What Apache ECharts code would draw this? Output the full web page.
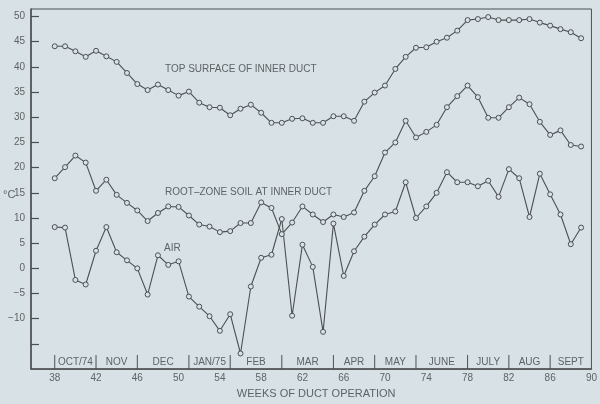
<!DOCTYPE html>
<html>
<head>
<meta charset="utf-8">
<script src="https://cdn.jsdelivr.net/npm/echarts@6/dist/echarts.min.js"></script>
<style>
html,body{margin:0;padding:0;background:#d7e1e6;}
#c{width:600px;height:404px;}
</style>
</head>
<body>
<div id="c"></div>
<script>
// Weeks of duct operation
const weeks = [38,39,40,41,42,43,44,45,46,47,48,49,50,51,52,53,54,55,56,57,58,59,60,61,62,63,
  64,65,66,67,68,69,70,71,72,73,74,75,76,77,78,79,80,81,82,83,84,85,86,87,88,89];
// Top surface of inner duct (°C)
const topSurface = [44.1,44.1,43.1,42.0,43.2,42.1,41.0,38.8,36.6,35.4,36.5,35.4,34.3,35.1,32.9,32.0,31.9,30.4,31.7,32.5,30.9,28.9,28.9,29.7,
  29.8,28.9,28.9,30.2,30.2,29.3,33.1,34.9,36.3,39.6,42.0,43.8,43.9,45.0,45.8,47.2,49.3,49.5,49.9,49.3,49.3,49.3,49.5,48.8,48.2,47.5,46.9,45.7];
// Root-zone soil at inner duct (°C)
const rootZone = [17.9,20.1,22.4,21.0,15.4,17.6,14.6,13.0,11.5,9.4,11.0,12.3,12.2,10.5,8.7,8.3,7.2,7.4,9.0,9.0,13.1,12.0,6.8,9.1,
  12.3,10.7,9.2,10.7,10.2,11.1,15.4,18.3,23.0,25.0,29.3,26.0,27.1,28.5,32.0,34.2,36.3,34.0,29.9,29.9,32.0,33.9,32.6,29.1,26.5,27.4,24.5,24.2];
// Air (°C)
const air = [8.2,8.1,-2.3,-3.2,3.5,8.2,3.2,1.6,0.0,-5.2,2.6,0.7,1.4,-5.6,-7.6,-9.5,-12.4,-9.1,-16.9,-3.6,2.1,2.7,9.8,-9.4,
  4.7,0.3,-12.6,8.9,-1.5,3.4,6.3,8.7,10.7,11.3,17.1,10.0,12.3,15.0,19.1,17.1,17.1,16.3,17.4,14.2,19.7,17.9,10.2,18.8,14.7,10.7,4.8,8.1];
// Axis ticks
const xTickLabels = [38,42,46,50,54,58,62,66,70,74,78,82,86,90];
const yTickLabels = [50,45,40,35,30,25,20,15,10,5,0,-5,-10];
const yTicks = [50,45,40,35,30,25,20,15,10,5,0,-5,-10,-15];
// Month bands (week where each month starts / ends)
const monthNames = ['OCT/74','NOV','DEC','JAN/75','FEB','MAR','APR','MAY','JUNE','JULY','AUG','SEPT'];
const monthStarts = [38,42,46,51,55,60,65,69,73,78,82,86];
const monthEnds   = [42,46,51,55,60,65,69,73,78,82,86,90];

const ink = '#4d5052';
const txt = '#5e6366';
const bg = '#d7e1e6';
const font = 'Liberation Sans';

function series(name, vals){
  return {
    name: name, type: 'line',
    data: weeks.map((w,i)=>[w, vals[i]]),
    symbol: 'circle', symbolSize: 5,
    lineStyle: {color: ink, width: 1.1},
    itemStyle: {color: bg, borderColor: ink, borderWidth: 1},
    emphasis: {disabled: true},
    animation: false, z: 3
  };
}

const chart = echarts.init(document.getElementById('c'), null, {renderer: 'canvas'});
chart.setOption({
  backgroundColor: bg,
  animation: false,
  grid: {left: 31, right: 7, top: 9, bottom: 28, show: true, borderColor: ink, borderWidth: 1, backgroundColor: 'transparent'},
  xAxis: {
    type: 'value', min: 35.7, max: 90,
    axisLine: {show: true, onZero: false, lineStyle: {color: ink, width: 1.5}},
    axisTick: {show: false},
    splitLine: {show: false},
    axisLabel: {customValues: xTickLabels, color: txt, fontSize: 10, fontFamily: font, margin: 4},
    name: 'WEEKS OF DUCT OPERATION', nameLocation: 'middle', nameGap: 15,
    nameTextStyle: {color: txt, fontSize: 11, fontFamily: font, padding: [0,0,0,10]}
  },
  yAxis: {
    type: 'value', min: -20, max: 51.5,
    axisLine: {show: true, onZero: false, lineStyle: {color: ink, width: 1.5}},
    axisTick: {show: true, inside: true, length: 8, customValues: yTicks, lineStyle: {color: ink, width: 1.2}},
    splitLine: {show: false},
    axisLabel: {customValues: yTickLabels, color: txt, fontSize: 10, fontFamily: font, margin: 6,
      formatter: v => v < 0 ? '\u2212' + Math.abs(v) : String(v)}
  },
  graphic: [
    {type: 'text', left: 165, top: 64, style: {text: 'TOP SURFACE OF INNER DUCT', fill: txt, font: '10px ' + font}},
    {type: 'text', left: 165, top: 187, style: {text: 'ROOT\u2013ZONE SOIL AT INNER DUCT', fill: txt, font: '10px ' + font}},
    {type: 'text', left: 164, top: 243, style: {text: 'AIR', fill: txt, font: '10px ' + font}},
    {type: 'text', left: 3, top: 189, style: {text: '\u00B0C', fill: txt, font: '11px ' + font}}
  ],
  series: [
    series('Top surface of inner duct', topSurface),
    series('Root-zone soil at inner duct', rootZone),
    series('Air', air),
    {
      type: 'custom', name: 'months', coordinateSystem: 'cartesian2d', clip: false, silent: true,
      data: monthStarts.map((s,i)=>[s, monthEnds[i], -20]),
      encode: {x: [0,1], y: 2},
      renderItem: function(params, api){
        const s = api.value(0), e = api.value(1);
        const p0 = api.coord([s, -20]);
        const p1 = api.coord([s, -17.2]);
        const mid = api.coord([(s+e)/2, -18.6]);
        return {type: 'group', children: [
          {type: 'line', shape: {x1: p0[0], y1: p0[1], x2: p1[0], y2: p1[1]}, style: {stroke: ink, lineWidth: 1}},
          {type: 'text', x: mid[0], y: mid[1], style: {text: monthNames[params.dataIndex], fill: txt, font: '10px ' + font, align: 'center', verticalAlign: 'middle'}}
        ]};
      }
    }
  ]
});
</script>
</body>
</html>
